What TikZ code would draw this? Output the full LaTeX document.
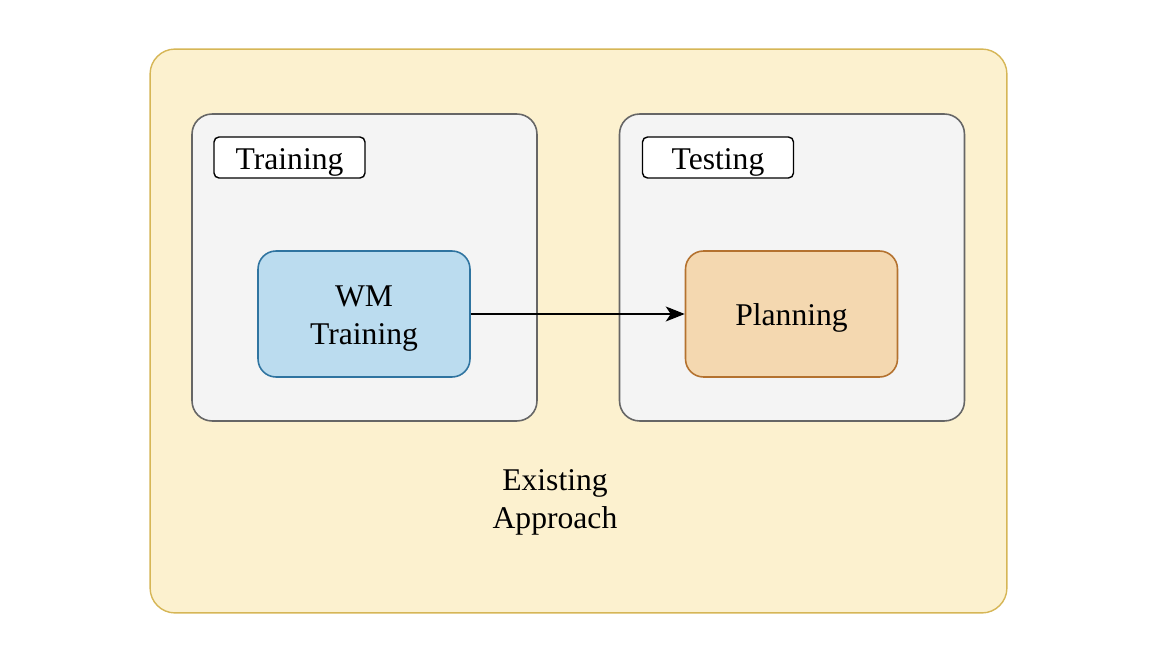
\documentclass[tikz,border=0pt]{standalone}
\usepackage{fontspec}
\setmainfont{Liberation Serif}
\usetikzlibrary{shapes,arrows.meta,positioning}
\definecolor{outerfill}{HTML}{FCF1CF}
\definecolor{outerline}{HTML}{D6B656}
\definecolor{groupfill}{HTML}{F4F4F4}
\definecolor{groupline}{HTML}{666666}
\definecolor{wmfill}{HTML}{BBDCEF}
\definecolor{wmline}{HTML}{2F74A0}
\definecolor{planfill}{HTML}{F4D8B0}
\definecolor{planline}{HTML}{B4722F}
\newcommand{\up}{\rule{0pt}{17pt}}

\begin{document}
\begin{tikzpicture}[x=0.02cm,y=-0.02cm,
  txt/.style={font=\fontsize{18}{22}\selectfont},
  outer/.style={draw=outerline,fill=outerfill,line width=0.8pt,rounded corners=0.5cm,minimum width=17.14cm,minimum height=11.28cm},
  group/.style={draw=groupline,fill=groupfill,line width=0.9pt,rounded corners=0.4cm,minimum width=6.9cm,minimum height=6.14cm},
  tag/.style={txt,draw=black,fill=white,line width=0.8pt,rounded corners=0.1cm,inner ysep=0pt,minimum width=3.02cm,minimum height=0.82cm},
  block/.style={txt,line width=0.9pt,rounded corners=0.36cm,minimum width=4.24cm,minimum height=2.52cm,align=center}]
\useasboundingbox (0,0) rectangle (1154,658);
\node[outer] (existing) at (578.5,331) {};
\node[group] (train) at (364.5,267.5) {};
\node[group] (test) at (792,267.5) {};
\node[tag] (traintag) at (289.5,157.5) {\up Training};
\node[tag] (testtag) at (718,157.5) {\up Testing};
\node[block,draw=wmline,fill=wmfill] (wm) at (364,314) {\up WM\\Training};
\node[block,draw=planline,fill=planfill] (plan) at (791.5,314) {\up Planning};
\node[txt,align=center] (label) at (555,498) {\up Existing\\Approach};
\draw[-{Stealth[length=0.38cm,width=0.3cm,inset=0.1cm]},line width=0.9pt] (wm) -- (plan);
\end{tikzpicture}
\end{document}
